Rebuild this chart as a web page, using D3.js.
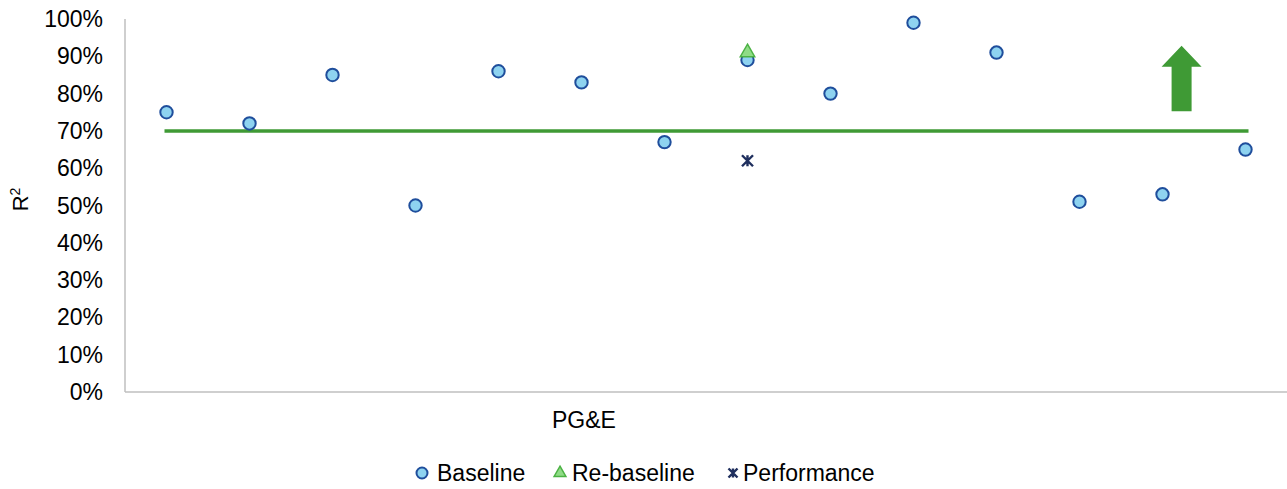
<!DOCTYPE html>
<html><head><meta charset="utf-8">
<script src="https://cdn.jsdelivr.net/npm/d3@7"></script>
<style>body{margin:0;background:#fff}svg{display:block;font-family:"Liberation Sans",Arial,sans-serif}</style>
</head><body><svg id="c" width="1287" height="489"></svg>
<script>
const positions = [1,2,3,4,5,6,7,8,9,10,11,12,13,14];
const baseline = [0.75,0.72,0.85,0.50,0.86,0.83,0.67,0.89,0.80,0.99,0.91,0.51,0.53,0.65];
const rebaseline = [{pos:8, v:0.91}];
const performance = [{pos:8, v:0.62}];
const target = 0.70;
const yTicks = [0,0.1,0.2,0.3,0.4,0.5,0.6,0.7,0.8,0.9,1.0];
const category = "PG&E";
const legendLabels = ["Baseline","Re-baseline","Performance"];

const svg = d3.select("#c");
const x = d3.scaleLinear().domain([0.5,14.5]).range([125,1287]);
const y = d3.scaleLinear().domain([0,1]).range([392,19]);

const axisColor = "#bfbfbf";
svg.append("line").attr("x1",125).attr("x2",125).attr("y1",y(1)).attr("y2",y(0)).attr("stroke",axisColor).attr("stroke-width",1.5);
svg.append("line").attr("x1",125).attr("x2",1287).attr("y1",y(0)).attr("y2",y(0)).attr("stroke",axisColor).attr("stroke-width",1.5);
svg.append("g").selectAll("text").data(yTicks).join("text")
  .attr("x",103).attr("y",d=>y(d)).attr("dy","0.35em").attr("text-anchor","end")
  .attr("font-size",23).attr("fill","#000").text(d=>d3.format(".0%")(d));
svg.append("text").attr("transform",`translate(28,${y(0.5)-6}) rotate(-90)`).attr("text-anchor","middle")
  .attr("font-size",22).attr("fill","#000").html('R<tspan dy="-8" font-size="14">2</tspan>');
svg.append("text").attr("x",584).attr("y",428).attr("text-anchor","middle").attr("font-size",23).attr("fill","#000").text(category);

svg.append("line").attr("x1",x(positions[0])-2).attr("x2",x(positions[positions.length-1])+3)
  .attr("y1",y(target)).attr("y2",y(target)).attr("stroke","#3f9a35").attr("stroke-width",3.5);

const ax = x(13.23), aw = 10, hw = 20;
const yb = y(0.753), yh = y(0.872), yt = y(0.928);
svg.append("path").attr("d",`M${ax-aw},${yb}L${ax-aw},${yh}L${ax-hw},${yh}L${ax},${yt}L${ax+hw},${yh}L${ax+aw},${yh}L${ax+aw},${yb}Z`).attr("fill","#3f9a35");

const cFill="#8ed3f0", cStroke="#1f4e9c";
svg.append("g").selectAll("circle").data(baseline).join("circle")
  .attr("cx",(d,i)=>x(positions[i])).attr("cy",d=>y(d)).attr("r",6.2)
  .attr("fill",cFill).attr("stroke",cStroke).attr("stroke-width",2);
const tri = d3.symbol().type(d3.symbolTriangle).size(90);
svg.append("g").selectAll("path").data(rebaseline).join("path")
  .attr("transform",d=>`translate(${x(d.pos)},${y(d.v)})`).attr("d",tri())
  .attr("fill","#8fdc86").attr("stroke","#4cb244").attr("stroke-width",1.5);
function star(cx,cy,s){return `M${cx-s},${cy-s}L${cx+s},${cy+s}M${cx-s},${cy+s}L${cx+s},${cy-s}M${cx},${cy-s}L${cx},${cy+s}`;}
svg.append("g").selectAll("path").data(performance).join("path")
  .attr("d",d=>star(x(d.pos),y(d.v),5.5)).attr("stroke","#1f2f5e").attr("stroke-width",2.4).attr("fill","none");

const ly = 473;
svg.append("circle").attr("cx",422).attr("cy",ly).attr("r",5.5).attr("fill",cFill).attr("stroke",cStroke).attr("stroke-width",2);
svg.append("text").attr("x",437).attr("y",ly).attr("dy","0.35em").attr("font-size",23).text(legendLabels[0]);
svg.append("path").attr("transform",`translate(560,${ly})`).attr("d",d3.symbol().type(d3.symbolTriangle).size(60)())
  .attr("fill","#8fdc86").attr("stroke","#4cb244").attr("stroke-width",1.5);
svg.append("text").attr("x",572).attr("y",ly).attr("dy","0.35em").attr("font-size",23).text(legendLabels[1]);
svg.append("path").attr("d",star(733,ly,4.5)).attr("stroke","#1f2f5e").attr("stroke-width",2.4).attr("fill","none");
svg.append("text").attr("x",743).attr("y",ly).attr("dy","0.35em").attr("font-size",23).text(legendLabels[2]);
</script></body></html>
